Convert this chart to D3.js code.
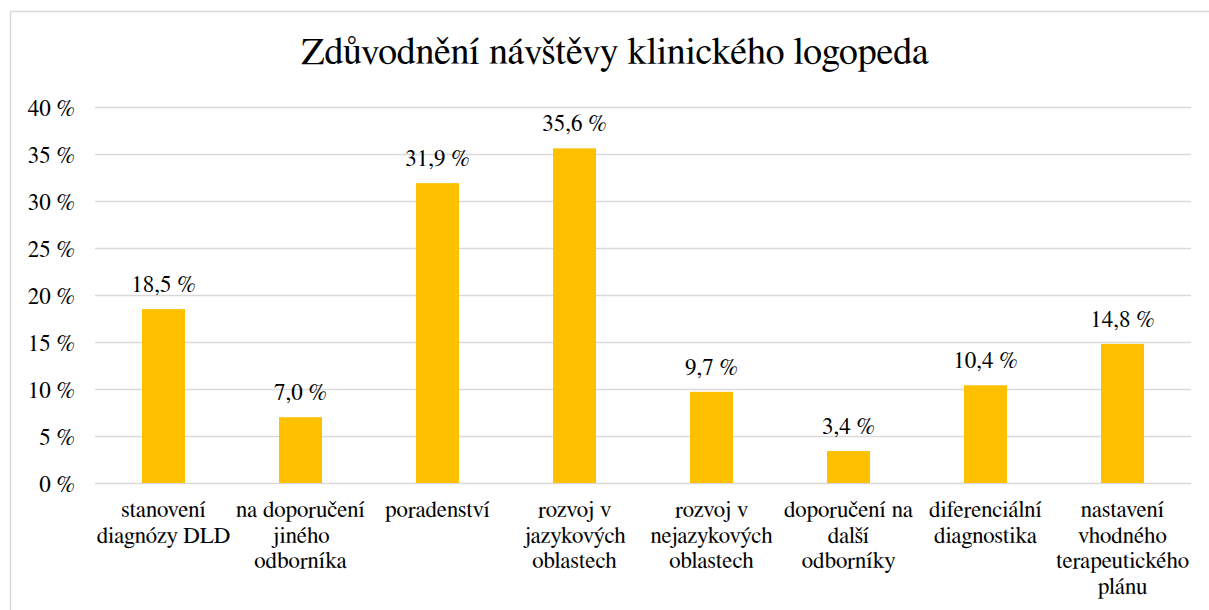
<!DOCTYPE html>
<html>
<head>
<meta charset="utf-8">
<script src="https://cdn.jsdelivr.net/npm/d3@7"></script>
<style>
    body { margin: 0; background: #fff; }
</style>
</head>
<body>
<div id="chart"></div>
<script>
// chart data
const categories = [
    "stanovení diagnózy DLD",
    "na doporučení jiného odborníka",
    "poradenství",
    "rozvoj v jazykových oblastech",
    "rozvoj v nejazykových oblastech",
    "doporučení na další odborníky",
    "diferenciální diagnostika",
    "nastavení vhodného terapeutického plánu"
];
const values = [18.5, 7.0, 31.9, 35.6, 9.7, 3.4, 10.4, 14.8];
const yTicks = [0, 5, 10, 15, 20, 25, 30, 35, 40];
const title = "Zdůvodnění návštěvy klinického logopeda";

let WIDTH = 1209,
    HEIGHT = 610,
    LEFT = 95,
    RIGHT = 1191,
    TOP = 107,
    BOTTOM = 483,
    FONT = "FreeSerif",   // Liberation Serif fell back to sans here
    FONT_SIZE = 23,
    WRAP_WIDTH = 135;

const fmt = v => v.toFixed(1).replace(".", ",") + " %";

let svg = d3.select("#chart").append("svg")
    .attr("width", WIDTH)
    .attr("height", HEIGHT);

// outer frame (right and bottom run off the picture)
svg.append("rect")
    .attr("x", 10.5).attr("y", 11.5)
    .attr("width", 1400).attr("height", 800)
    .attr("fill", "none")
    .attr("stroke", "#d9d9d9")
    .attr("stroke-width", 1.5);

svg.append("text")
    .attr("x", 615).attr("y", 64)
    .attr("text-anchor", "middle")
    .style("font-family", FONT)
    .style("font-size", "38px")
    .text(title);

let x = d3.scaleBand()
    .domain(categories)
    .range([LEFT, RIGHT])
    .paddingInner(0.686)
    .paddingOuter(0.343);

let y = d3.scaleLinear()
    .domain([0, 40])
    .range([BOTTOM, TOP]);

// gridlines + tick labels
let yAxis = svg.append("g")
    .attr("transform", `translate(${LEFT},0)`)
    .call(d3.axisLeft(y).tickValues(yTicks).tickSize(-(RIGHT - LEFT)).tickPadding(20)
        .tickFormat(d => d + " %"));
yAxis.select(".domain").remove();
yAxis.selectAll("line").attr("stroke", "#d9d9d9").attr("stroke-width", 1.3);
yAxis.selectAll("text")
    .attr("x", -20)
    .attr("dy", null)
    .attr("y", 8)
    .attr("fill", "#000")
    .style("font-size", FONT_SIZE + "px")
    .style("font-family", FONT);

// bars
svg.append("g").selectAll("rect")
    .data(values)
    .join("rect")
    .attr("x", (d, i) => x(categories[i]))
    .attr("y", d => y(d))
    .attr("width", x.bandwidth())
    .attr("height", d => BOTTOM - y(d))
    .attr("fill", "#ffc000");

// value labels
svg.append("g").selectAll("text")
    .data(values)
    .join("text")
    .attr("x", (d, i) => x(categories[i]) + x.bandwidth() / 2)
    .attr("y", d => y(d) - 17)
    .attr("text-anchor", "middle")
    .style("font-family", FONT)
    .style("font-size", FONT_SIZE + "px")
    .text(fmt);

// category labels, wrapped
let catLabels = svg.append("g").selectAll("text")
    .data(categories)
    .join("text")
    .attr("x", d => x(d) + x.bandwidth() / 2)
    .attr("y", 517)
    .attr("text-anchor", "middle")
    .style("font-family", FONT)
    .style("font-size", FONT_SIZE + "px");

catLabels.each(function (d) {
    let t = d3.select(this);
    let words = d.split(" ");
    let line = [];
    let tspan = t.append("tspan").attr("x", t.attr("x")).attr("dy", 0);
    words.forEach(w => {
        line.push(w);
        tspan.text(line.join(" "));
        if (tspan.node().getComputedTextLength() > WRAP_WIDTH && line.length > 1) {
            line.pop();
            tspan.text(line.join(" "));
            line = [w];
            tspan = t.append("tspan").attr("x", t.attr("x")).attr("dy", 25.5).text(w);
        }
    });
});
</script>
</body>
</html>
